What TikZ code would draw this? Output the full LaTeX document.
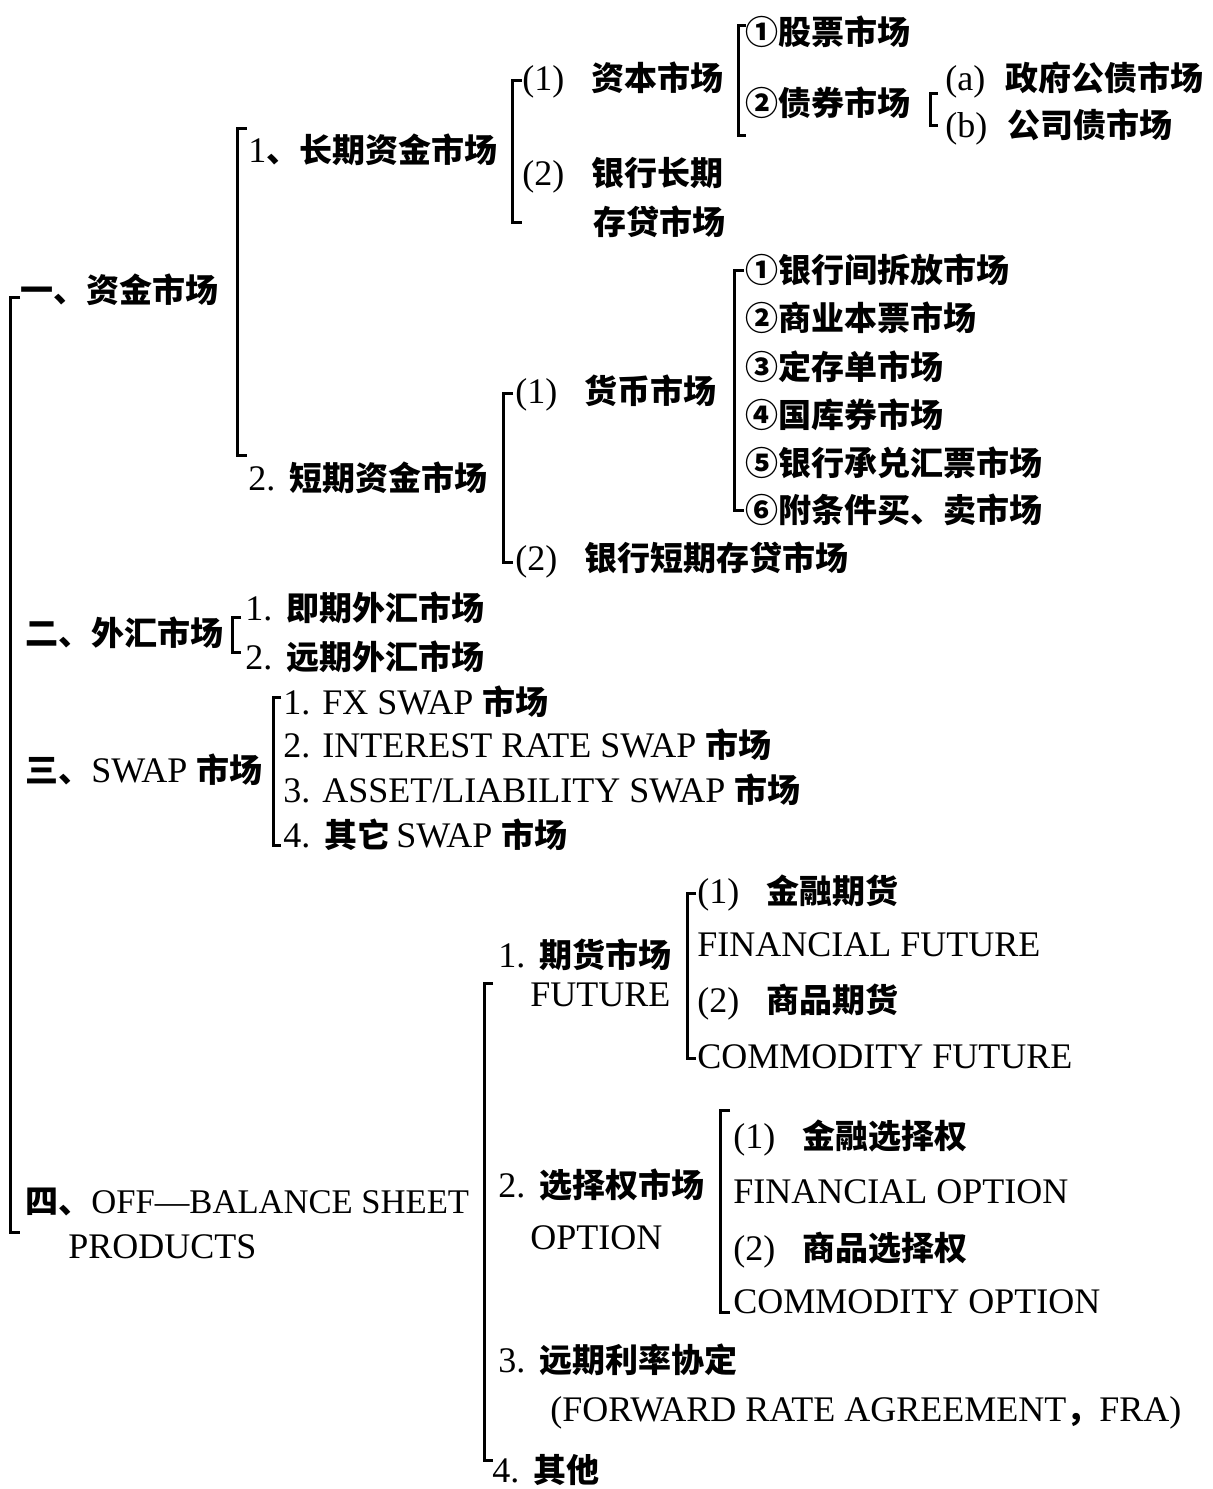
\documentclass[tikz,border=0pt]{standalone}
\usepackage{fontspec}
\setmainfont{Liberation Serif}
\newfontfamily\zhfont{Noto Sans CJK SC}
\newcommand\Z[1]{{\zhfont\bfseries\fontsize{16.5}{20}\selectfont #1}}
\begin{document}
\begin{tikzpicture}[x=0.5pt,y=-0.5pt,
  lbl/.style={anchor=west,inner sep=0pt,font=\fontsize{18}{21}\selectfont},
  brk/.style={line width=1.5pt}]
\useasboundingbox (0,0) rectangle (1212,1489);
\newcommand\bracket[4]{\draw[brk] (#1+#4,#2) -- (#1,#2) -- (#1,#3) -- (#1+#4,#3);}
\newcommand\pg{\hspace{13.5pt}}
\newcommand\dg{\hspace{7pt}}
% ---- level 0
\node[lbl] (n1) at (20,290) {\Z{一、资金市场}};
\node[lbl] (n2) at (25,633) {\Z{二、外汇市场}};
\node[lbl] (n3) at (25,770) {\Z{三、}SWAP \Z{市场}};
\node[lbl,font=\fontsize{17.3}{21}\selectfont] (n4a) at (25,1202) {\Z{四、}OFF—BALANCE SHEET};
\node[lbl] (n4b) at (68,1247) {PRODUCTS};
\bracket{10}{297}{1232}{10}
% ---- 一
\node[lbl] (n11) at (248,150) {1\Z{、长期资金市场}};
\node[lbl] (n12) at (248,478) {2.\dg\Z{短期资金市场}};
\bracket{237}{128}{455}{10}
\node[lbl] (n111) at (522,80) {(1)\pg\Z{资本市场}};
\node[lbl] (n112a) at (522,175) {(2)\pg\Z{银行长期}};
\node[lbl] (n112b) at (593,222) {\Z{存贷市场}};
\bracket{512}{80}{222}{10}
\node[lbl] (n1111) at (745,32) {\Z{①股票市场}};
\node[lbl] (n1112) at (745,103) {\Z{②债券市场}};
\bracket{738}{25}{135}{8}
\node[lbl] (n11121) at (945,80) {(a)\hspace{10pt}\Z{政府公债市场}};
\node[lbl] (n11122) at (945,127) {(b)\hspace{10pt}\Z{公司债市场}};
\bracket{930}{93}{125}{8}
\node[lbl] (n121) at (515,393) {(1)\pg\Z{货币市场}};
\node[lbl] (n122) at (515,560) {(2)\pg\Z{银行短期存贷市场}};
\bracket{503}{393}{562}{10}
\node[lbl] (n1211) at (745,270) {\Z{①银行间拆放市场}};
\node[lbl] (n1212) at (745,318) {\Z{②商业本票市场}};
\node[lbl] (n1213) at (745,367) {\Z{③定存单市场}};
\node[lbl] (n1214) at (745,415) {\Z{④国库券市场}};
\node[lbl] (n1215) at (745,463) {\Z{⑤银行承兑汇票市场}};
\node[lbl] (n1216) at (745,510) {\Z{⑥附条件买、卖市场}};
\bracket{734}{270}{510}{10}
% ---- 二
\node[lbl] (n21) at (245,608) {1.\dg\Z{即期外汇市场}};
\node[lbl] (n22) at (245,657) {2.\dg\Z{远期外汇市场}};
\bracket{232}{617}{652}{9}
% ---- 三
\node[lbl] (n31) at (283,702) {1. FX SWAP \Z{市场}};
\node[lbl] (n32) at (283,745) {2. INTEREST RATE SWAP \Z{市场}};
\node[lbl] (n33) at (283,790) {3. ASSET/LIABILITY SWAP \Z{市场}};
\node[lbl] (n34) at (283,835) {4.\dg\Z{其它}\,SWAP \Z{市场}};
\bracket{273}{697}{845}{8}
% ---- 四
\node[lbl] (n41a) at (498,955) {1.\dg\Z{期货市场}};
\node[lbl] (n41b) at (530,995) {FUTURE};
\node[lbl] (n42a) at (498,1185) {2.\dg\Z{选择权市场}};
\node[lbl] (n42b) at (530,1238) {OPTION};
\node[lbl] (n43a) at (498,1360) {3.\dg\Z{远期利率协定}};
\node[lbl] (n43b) at (550,1413) {(FORWARD RATE AGREEMENT\Z{，}FRA)};
\node[lbl] (n44) at (492,1470) {4.\dg\Z{其他}};
\bracket{484}{983}{1460}{9}
\node[lbl] (n411) at (697,893) {(1)\pg\Z{金融期货}};
\node[lbl] (n412) at (697,945) {FINANCIAL FUTURE};
\node[lbl] (n413) at (697,1002) {(2)\pg\Z{商品期货}};
\node[lbl] (n414) at (697,1057) {COMMODITY FUTURE};
\bracket{687}{893}{1058}{9}
\node[lbl] (n421) at (733,1138) {(1)\pg\Z{金融选择权}};
\node[lbl] (n422) at (733,1192) {FINANCIAL OPTION};
\node[lbl] (n423) at (733,1250) {(2)\pg\Z{商品选择权}};
\node[lbl] (n424) at (733,1302) {COMMODITY OPTION};
\bracket{720}{1110}{1312}{10}
\end{tikzpicture}
\end{document}
